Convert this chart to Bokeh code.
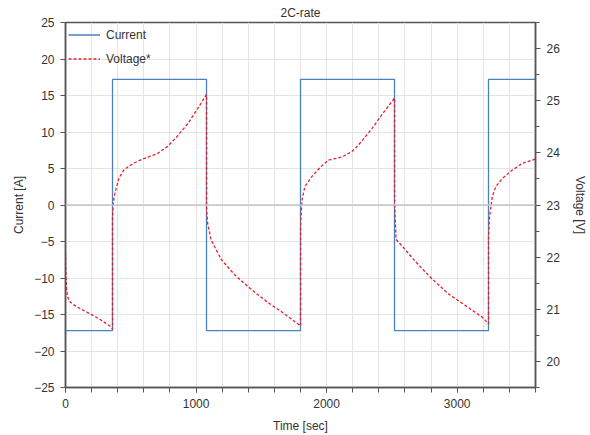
from bokeh.plotting import figure
from bokeh.models import (Range1d, LinearAxis, SingleIntervalTicker, Span, Legend, LegendItem)
from bokeh.embed import file_html
from bokeh.resources import INLINE

# ---- data ----
title_text = "2C-rate"
current_time = [0, 360, 360, 1080, 1080, 1800, 1800, 2520, 2520, 3240, 3240, 3600]
current_values = [-17.2, -17.2, 17.2, 17.2, -17.2, -17.2, 17.2, 17.2, -17.2, -17.2, 17.2, 17.2]

voltage_time = [0, 3, 8, 15, 30, 60, 100, 160, 220, 280, 340, 360,
                360, 364, 372, 385, 410, 450, 520, 600, 700, 780, 850, 940, 1010, 1080,
                1080, 1088, 1115, 1192, 1292, 1423, 1551, 1679, 1800,
                1800, 1812, 1833, 1885, 1950, 2013, 2115, 2192, 2244, 2346, 2420, 2520,
                2520, 2532, 2590, 2679, 2808, 2936, 3064, 3192, 3240,
                3240, 3248, 3269, 3295, 3346, 3423, 3500, 3600]
voltage_values = [22.1, 21.7, 21.4, 21.25, 21.15, 21.09, 21.03, 20.95, 20.87, 20.78, 20.68, 20.62,
                  22.75, 22.97, 23.15, 23.29, 23.52, 23.68, 23.8, 23.89, 23.98, 24.12, 24.3, 24.57, 24.84, 25.12,
                  22.95, 22.66, 22.33, 21.96, 21.67, 21.38, 21.13, 20.91, 20.68,
                  22.6, 23.1, 23.35, 23.54, 23.72, 23.86, 23.92, 24.02, 24.15, 24.46, 24.72, 25.05,
                  23.1, 22.34, 22.18, 21.92, 21.58, 21.29, 21.07, 20.85, 20.72,
                  22.4, 22.78, 23.16, 23.35, 23.51, 23.67, 23.8, 23.88]

series_names = ["Current", "Voltage*"]
x_label = "Time [sec]"
y_label = "Current [A]"
y2_label = "Voltage [V]"

FONT = "Liberation Sans"
TXT = "#333333"
AX = "#555555"

p = figure(width=590, height=435, output_backend="svg", toolbar_location=None,
           x_range=Range1d(0, 3600), y_range=Range1d(-25, 25),
           min_border_left=65, min_border_right=55, min_border_top=22, min_border_bottom=46)
p.extra_y_ranges = {"v": Range1d(19.5, 26.5)}

p.title.text = title_text
p.title.align = "center"
p.title.text_font = FONT
p.title.text_font_size = "12px"
p.title.text_font_style = "normal"
p.title.text_color = TXT
p.title.standoff = 6

p.outline_line_color = AX
p.outline_line_width = 1.5
p.background_fill_color = "white"

# axes
xa = p.xaxis[0]
xa.ticker = SingleIntervalTicker(interval=1000, num_minor_ticks=5)
ya = p.yaxis[0]
ya.ticker = SingleIntervalTicker(interval=5, num_minor_ticks=0)
ya2 = LinearAxis(y_range_name="v", ticker=SingleIntervalTicker(interval=1, num_minor_ticks=2))
p.add_layout(ya2, "right")

for ax in (xa, ya, ya2):
    ax.axis_line_color = AX
    ax.axis_line_width = 1.5
    ax.major_tick_line_color = AX
    ax.minor_tick_line_color = AX
    ax.major_tick_in = 0
    ax.minor_tick_in = 0
    ax.major_tick_out = 5
    ax.minor_tick_out = 5
    ax.major_label_text_font = FONT
    ax.major_label_text_font_size = "12px"
    ax.major_label_text_color = TXT
    ax.axis_label_text_font = FONT
    ax.axis_label_text_font_size = "12px"
    ax.axis_label_text_font_style = "normal"
    ax.axis_label_text_color = TXT
    ax.major_label_standoff = 6

ya.minor_tick_out = 0
ya2.minor_tick_out = 4
xa.axis_label = x_label
ya.axis_label = y_label
ya2.axis_label = y2_label
xa.axis_label_standoff = 8
ya.axis_label_standoff = 5
ya2.axis_label_standoff = 10

# grid
p.xgrid.ticker = SingleIntervalTicker(interval=200)
p.ygrid.ticker = SingleIntervalTicker(interval=5)
p.xgrid.grid_line_color = "#e4e4e4"
p.ygrid.grid_line_color = "#e4e4e4"
p.add_layout(Span(location=0, dimension="width", line_color="#c4c4c4", line_width=1.5))

r1 = p.line(current_time, current_values, line_color="#4a7fc1", line_width=1.3)
r2 = p.line(voltage_time, voltage_values, y_range_name="v", line_color="#e8202a",
            line_width=1.3, line_dash="3 2")

legend = Legend(items=[LegendItem(label=series_names[0], renderers=[r1]),
                       LegendItem(label=series_names[1], renderers=[r2])],
                location="top_left", margin=0, padding=3, spacing=5,
                glyph_width=32, glyph_height=19, label_height=19, label_standoff=6,
                label_text_font=FONT, label_text_font_size="12px", label_text_color=TXT,
                border_line_alpha=0, background_fill_alpha=0)
p.add_layout(legend)

open("out.html", "w").write(file_html(p, INLINE))
